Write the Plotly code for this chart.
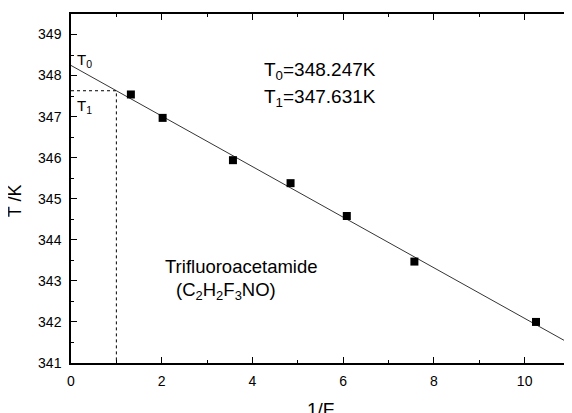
import plotly.graph_objects as go

# data
inv_F = [1.32, 2.02, 3.57, 4.84, 6.08, 7.57, 10.25]
T_K = [347.54, 346.97, 345.94, 345.38, 344.58, 343.47, 342.00]
T0 = 348.247
T1 = 347.631
x_range = [0, 11]
y_range = [341, 349.5]
x_ticks = [0, 2, 4, 6, 8, 10]
y_ticks = [341, 342, 343, 344, 345, 346, 347, 348, 349]

font = "Liberation Sans, Arial, sans-serif"

fig = go.Figure()

# fit line T = T0 + (T1 - T0) * (1/F)
slope = T1 - T0
fig.add_trace(go.Scatter(
    x=x_range, y=[T0 + slope * x for x in x_range],
    mode="lines", line=dict(color="black", width=0.8), showlegend=False,
    hoverinfo="skip"))

# dotted guide lines at 1/F = 1
fig.add_trace(go.Scatter(
    x=[x_range[0], 1, 1], y=[T1, T1, y_range[0]],
    mode="lines", line=dict(color="black", width=1, dash="dot"),
    showlegend=False, hoverinfo="skip"))

fig.add_trace(go.Scatter(
    x=inv_F, y=T_K, mode="markers",
    marker=dict(symbol="square", size=8, color="black"),
    showlegend=False))

axis_common = dict(
    showline=True, linecolor="black", linewidth=1.5, mirror="allticks",
    ticks="inside", ticklen=6, tickwidth=1, tickcolor="black",
    showgrid=False, zeroline=False, automargin=False,
    tickfont=dict(family=font, size=14, color="black"),
)

fig.update_xaxes(
    range=x_range, tickvals=x_ticks, ticklabelstandoff=4,
    minor=dict(ticks="inside", ticklen=3, dtick=1, tickcolor="black", tick0=0),
    **axis_common)
fig.update_yaxes(
    range=y_range, tickvals=y_ticks, ticklabelstandoff=5,
    minor=dict(ticks="inside", ticklen=3, dtick=0.5, tickcolor="black", tick0=341),
    **axis_common)

title_font = dict(family=font, size=19, color="black")
fig.add_annotation(x=0.5, y=-0.098, xref="paper", yref="paper", text="1/F",
                   showarrow=False, xanchor="center", yanchor="top", font=title_font)
fig.add_annotation(x=-0.112, y=0.464, xref="paper", yref="paper", text="T /K",
                   textangle=-90, showarrow=False, xanchor="center", yanchor="middle",
                   font=dict(family=font, size=18, color="black"))

ann_font = dict(family=font, size=19, color="black")
fig.add_annotation(x=4.2, y=348.11, xref="x", yref="y", text="T<sub>0</sub>=348.247K",
                   showarrow=False, xanchor="left", yanchor="middle", font=ann_font)
fig.add_annotation(x=4.2, y=347.45, xref="x", yref="y", text="T<sub>1</sub>=347.631K",
                   showarrow=False, xanchor="left", yanchor="middle", font=ann_font)
fig.add_annotation(x=2.02, y=343.36, xref="x", yref="y", text="Trifluoroacetamide",
                   showarrow=False, xanchor="left", yanchor="middle",
                   font=dict(family=font, size=18.5, color="black"))
fig.add_annotation(x=2.27, y=342.75, xref="x", yref="y",
                   text="(C<sub>2</sub>H<sub>2</sub>F<sub>3</sub>NO)",
                   showarrow=False, xanchor="left", yanchor="middle",
                   font=dict(family=font, size=18.5, color="black"))
small_font = dict(family=font, size=15, color="black")
fig.add_annotation(x=0.08, y=348.37, xref="x", yref="y", text="T<sub>0</sub>",
                   showarrow=False, xanchor="left", yanchor="middle", font=small_font)
fig.add_annotation(x=0.08, y=347.25, xref="x", yref="y", text="T<sub>1</sub>",
                   showarrow=False, xanchor="left", yanchor="middle", font=small_font)

# the page body has an 8px margin, so the margins compensate for it
fig.update_layout(
    width=572, height=413,
    margin=dict(l=63, r=10, t=6, b=58),
    plot_bgcolor="white", paper_bgcolor="white",
)

fig.write_html("out.html")
